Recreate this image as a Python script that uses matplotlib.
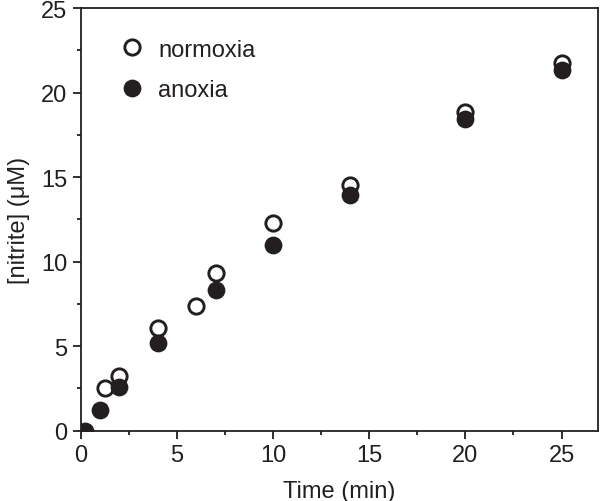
import matplotlib
matplotlib.use("Agg")
import matplotlib.pyplot as plt
from matplotlib.ticker import MultipleLocator

plt.rcParams['font.family'] = ['Liberation Sans', 'DejaVu Sans']

# Data
t_norm = [1.25, 2.0, 4.0, 6.0, 7.0, 10.0, 14.0, 20.0, 25.0]
n_norm = [2.52, 3.25, 6.07, 7.35, 9.34, 12.3, 14.55, 18.87, 21.75]
t_anox = [0.2, 1.0, 2.0, 4.0, 7.0, 10.0, 14.0, 20.0, 25.0]
n_anox = [0.0, 1.24, 2.58, 5.2, 8.3, 10.95, 13.95, 18.45, 21.35]

dark = '#231f20'
fs = 17

fig = plt.figure(figsize=(6.0, 5.02), dpi=100)
ax = fig.add_axes([0.135, 0.1404, 0.8617, 0.8416])

ax.plot(t_norm, n_norm, linestyle='none', marker='o', ms=11, mew=2.1,
        mfc='white', mec=dark, label='normoxia', zorder=3)
ax.plot(t_anox, n_anox, linestyle='none', marker='o', ms=11.5, mew=1.3,
        mfc=dark, mec=dark, label='anoxia', zorder=4)

ax.set_xlim(0, 26.9)
ax.set_ylim(0, 25)
ax.xaxis.set_major_locator(MultipleLocator(5))
ax.xaxis.set_minor_locator(MultipleLocator(2.5))
ax.yaxis.set_major_locator(MultipleLocator(5))
ax.yaxis.set_minor_locator(MultipleLocator(2.5))
ax.tick_params(which='major', direction='out', length=6, width=1.3, labelsize=fs,
               colors=dark, pad=4)
ax.tick_params(which='minor', direction='out', length=3.2, width=1.3, colors=dark)
for s in ax.spines.values():
    s.set_linewidth(1.3)
    s.set_color(dark)

ax.set_xlabel('Time (min)', fontsize=fs, color=dark, labelpad=10)
ax.set_ylabel('[nitrite] (μM)', fontsize=fs, color=dark, labelpad=8)

leg = ax.legend(loc='upper left', bbox_to_anchor=(0.053, 0.95), frameon=False,
                fontsize=fs, handletextpad=0.5, labelspacing=0.8,
                borderaxespad=0, handlelength=1.2)
for txt in leg.get_texts():
    txt.set_color(dark)

fig.savefig('out.png', dpi=100)
